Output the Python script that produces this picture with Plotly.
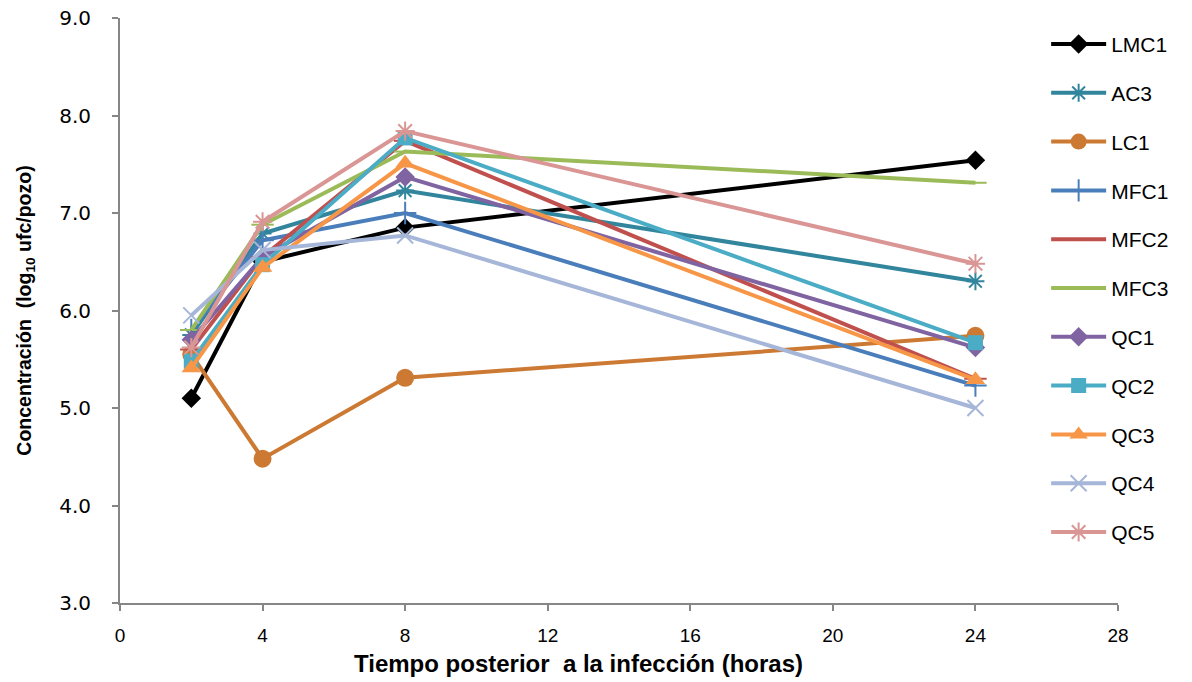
import plotly.graph_objects as go

hours = [2, 4, 8, 24]
series_names = ["LMC1", "AC3", "LC1", "MFC1", "MFC2", "MFC3", "QC1", "QC2", "QC3", "QC4", "QC5"]
LMC1 = [5.10, 6.50, 6.85, 7.54]
AC3 = [5.75, 6.79, 7.23, 6.30]
LC1 = [5.55, 4.48, 5.31, 5.74]
MFC1 = [5.80, 6.72, 7.00, 5.23]
MFC2 = [5.60, 6.55, 7.74, 5.30]
MFC3 = [5.80, 6.88, 7.63, 7.31]
QC1 = [5.70, 6.55, 7.37, 5.62]
QC2 = [5.48, 6.47, 7.77, 5.67]
QC3 = [5.41, 6.44, 7.51, 5.29]
QC4 = [5.95, 6.62, 6.77, 5.00]
QC5 = [5.62, 6.91, 7.84, 6.48]
values = [LMC1, AC3, LC1, MFC1, MFC2, MFC3, QC1, QC2, QC3, QC4, QC5]

colors = ["#000000", "#31859C", "#CC7A33", "#4A7EBB", "#C0504D", "#9BBB59",
          "#8064A2", "#4BACC6", "#F79646", "#A5B6D8", "#D99694"]
symbols = ["diamond", "asterisk-open", "circle", "cross-thin-open", "line-ew-open", "line-ew-open",
           "diamond", "square", "triangle-up", "x-thin-open", "asterisk-open"]
sizes = [15, 15, 18, 16, 16, 16, 15, 15, 17, 16, 16]

fig = go.Figure()
for name, vals, col, sym, sz in zip(series_names, values, colors, symbols, sizes):
    open_sym = sym.endswith("open")
    fig.add_trace(go.Scatter(
        x=hours, y=vals, name=name, mode="lines+markers", legendgroup=name,
        line=dict(color=col, width=4),
        marker=dict(symbol=sym, size=sz, color=col,
                    line=dict(color=col, width=2 if open_sym else 0)),
    ))

axis_common = dict(showgrid=False, zeroline=False, showline=True, linecolor="#868686",
                   linewidth=2, ticks="outside", tickcolor="#868686", ticklen=6, tickwidth=1.5,
                   automargin=False)

fig.update_layout(
    width=1192, height=682,
    paper_bgcolor="white", plot_bgcolor="white",
    margin=dict(l=120, r=74, t=18, b=79),
    font=dict(family="Liberation Sans, Arial", color="#000000"),
    xaxis=dict(range=[0, 28], tickvals=[0, 4, 8, 12, 16, 20, 24, 28],
               tickfont=dict(family="Liberation Sans Narrow, Arial Narrow, Liberation Sans", size=19),
               ticklabelstandoff=8,
               **axis_common),
    yaxis=dict(range=[3, 9], tickvals=[3, 4, 5, 6, 7, 8, 9], tickformat=".1f",
               tickfont=dict(family="DejaVu Sans, Verdana", size=20),
               ticklabelstandoff=17,
               title=dict(text="<b>Concentración  (log<sub>10</sub> ufc/pozo)</b>",
                          font=dict(family="Liberation Sans Narrow, Arial Narrow, Liberation Sans", size=19.5),
                          standoff=22),
               **axis_common),
    legend=dict(x=0.928, y=0.99, xanchor="left", yanchor="top",
                font=dict(family="Liberation Sans, Arial", size=21),
                tracegroupgap=18.5, itemwidth=55, bgcolor="rgba(0,0,0,0)"),
    annotations=[dict(text="<b>Tiempo posterior  a la infección (horas)</b>",
                      xref="paper", yref="paper", x=(578 - 120) / 998, y=-(663 - 603) / 585,
                      xanchor="center", yanchor="middle", showarrow=False,
                      font=dict(family="Liberation Sans", size=24, color="#000000"))],
)

fig.write_html("out.html")
